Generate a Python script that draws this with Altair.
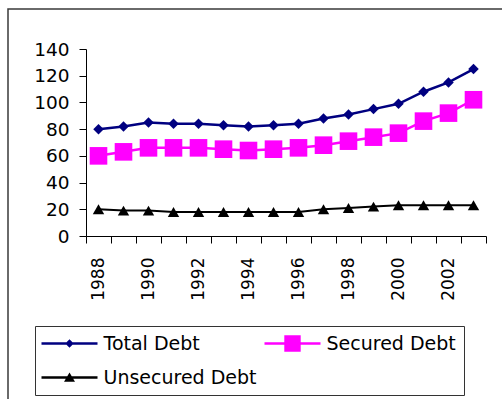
import altair as alt
import pandas as pd

years = list(range(1988, 2004))
total_debt = [80, 82, 85, 84, 84, 83, 82, 83, 84, 88, 91, 95, 99, 108, 115, 125]
secured_debt = [60, 63, 66, 66, 66, 65, 64, 65, 66, 68, 71, 74, 77, 86, 92, 102]
unsecured_debt = [20, 19, 19, 18, 18, 18, 18, 18, 18, 20, 21, 22, 23, 23, 23, 23]
series_names = ["Total Debt", "Secured Debt", "Unsecured Debt"]
series_colors = ["#000080", "#FF00FF", "#000000"]
y_ticks = [0, 20, 40, 60, 80, 100, 120, 140]
x_label_years = [1988, 1990, 1992, 1994, 1996, 1998, 2000, 2002]

rows = []
for name, vals in zip(series_names, [total_debt, secured_debt, unsecured_debt]):
    for yr, v in zip(years, vals):
        rows.append({"year": yr, "value": v, "series": name})
df = pd.DataFrame(rows)

FONT = "DejaVu Sans"

# legend symbols: line segment + marker (unit coords, scaled by sqrt(size)/2)
seg = "M-2.8,-0.12H2.8V0.12H-2.8Z"
legend_paths = [
    seg + " M0,-0.42L0.42,0L0,0.42L-0.42,0Z",
    seg + " M-0.82,-0.82H0.82V0.82H-0.82Z",
    seg + " M0,-0.5L0.55,0.42L-0.55,0.42Z",
]

x_enc = alt.X(
    "year:O",
    scale=alt.Scale(type="band", paddingInner=0, paddingOuter=0),
    axis=alt.Axis(
        title=None,
        tickBand="extent",
        labelAngle=270,
        labelAlign="right",
        labelBaseline="middle",
        labelPadding=14,
        labelFontSize=17,
        labelFont=FONT,
        labelColor="black",
        labelOverlap=False,
        labelExpr="indexof(" + str(x_label_years) + ", datum.value) >= 0 ? datum.label : ''",
        domainColor="black",
        tickColor="black",
        tickSize=7,
        grid=False,
    ),
)
y_enc = alt.Y(
    "value:Q",
    scale=alt.Scale(domain=[0, 140], nice=False, zero=True),
    axis=alt.Axis(
        title=None,
        values=y_ticks,
        grid=False,
        tickSize=7,
        labelPadding=10,
        labelFontSize=18.5,
        labelFont=FONT,
        labelColor="black",
        domainColor="black",
        tickColor="black",
    ),
)

frame = alt.Chart(alt.Data(values=[{"k": 1}])).mark_rect(
    fill="transparent", stroke="#3a3a3a", strokeWidth=1.5
).encode(
    x=alt.value(-78), y=alt.value(-40), x2=alt.value(800), y2=alt.value(800)
)

marker_shapes = ["diamond", "square", "triangle-up"]
marker_sizes = [110, 310, 130]
line_widths = [2.5, 2.5, 2]
series_layers = []
for name, col, shp, sz, lw in zip(series_names, series_colors, marker_shapes, marker_sizes, line_widths):
    base = alt.Chart(df).transform_filter(alt.datum.series == name)
    series_layers.append(
        base.mark_line(color=col, strokeWidth=lw).encode(x=x_enc, y=y_enc)
    )
for name, col, shp, sz, lw in zip(series_names, series_colors, marker_shapes, marker_sizes, line_widths):
    base = alt.Chart(df).transform_filter(alt.datum.series == name)
    series_layers.append(
        base.mark_point(filled=True, shape=shp, size=sz, opacity=1, color=col).encode(x=x_enc, y=y_enc)
    )

NBSP = "\u00a0"
legend_kw = dict(
    orient="none",
    direction="horizontal",
    legendX=-51,
    legendY=277,
    title=None,
    columns=2,
    symbolSize=400,
    symbolOffset=17,
    symbolOpacity=1,
    symbolStrokeWidth=0,
    labelOffset=24,
    labelFont=FONT,
    labelFontSize=19,
    labelColor="black",
    labelLimit=400,
    labelExpr="datum.label == 'Secured Debt' ? datum.label + '" + NBSP * 8 + "' : datum.label",
    rowPadding=14,
    columnPadding=7,
    padding=7.5,
    strokeColor="#333333",
)

legend_layer = alt.Chart(df).mark_point(filled=True, opacity=0).encode(
    x=x_enc,
    y=y_enc,
    color=alt.Color(
        "series:N",
        scale=alt.Scale(domain=series_names, range=series_colors),
        legend=alt.Legend(**legend_kw),
    ),
    shape=alt.Shape(
        "series:N",
        scale=alt.Scale(domain=series_names, range=legend_paths),
        legend=alt.Legend(**legend_kw),
    ),
)

chart = (
    alt.layer(frame, *series_layers, legend_layer)
    .properties(
        width=400,
        height=187,
        padding={"left": 86, "top": 49, "right": 16, "bottom": 163},
        autosize=alt.AutoSizeParams(type="none"),
        background="white",
    )
    .configure_view(stroke=None)
)

chart.save("out.html", embed_options={"renderer": "svg", "actions": False})
